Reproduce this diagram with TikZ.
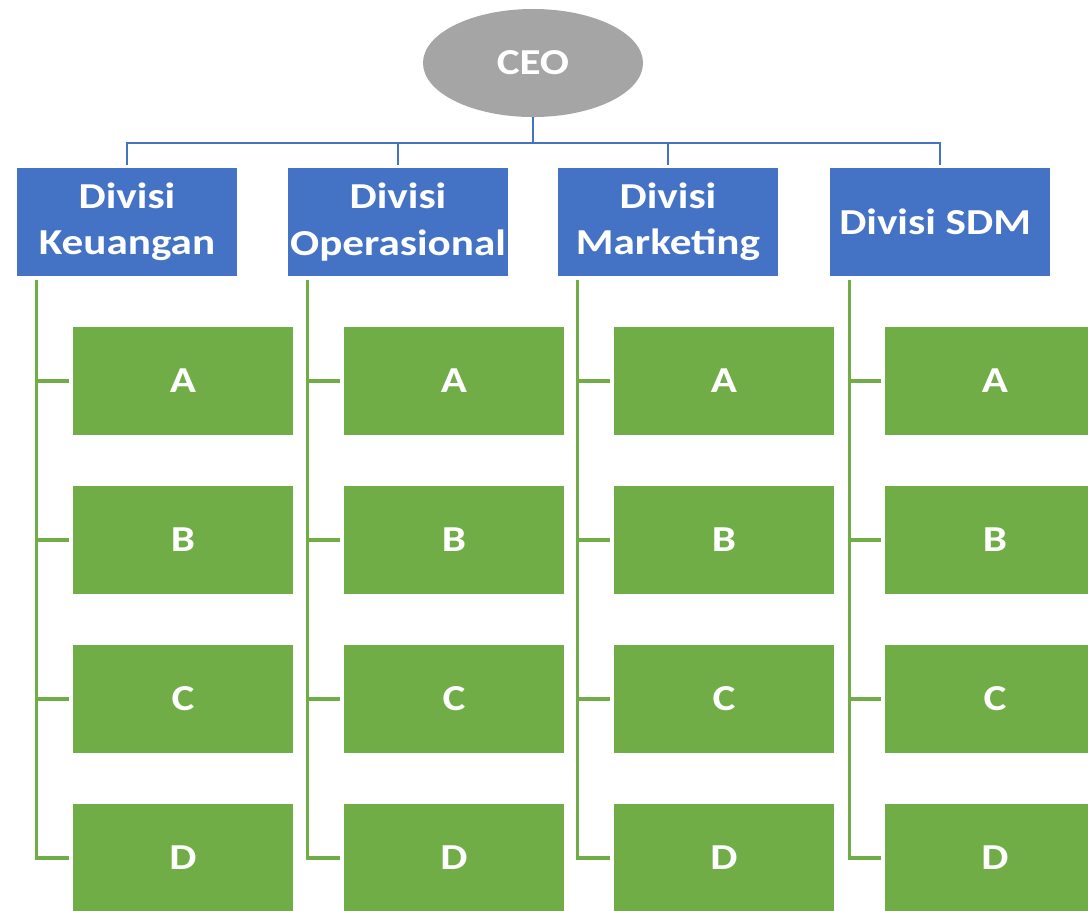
\documentclass[tikz,border=0pt]{standalone}
\usepackage{fontspec}
\usetikzlibrary{shapes.geometric}
\newfontfamily\chartfont[FakeStretch=1.18]{Carlito}
\definecolor{ceogray}{HTML}{A5A5A5}
\definecolor{divblue}{HTML}{4472C4}
\definecolor{unitgreen}{HTML}{70AD47}
\begin{document}
\begin{tikzpicture}[x=.025cm, y=-.025cm,
	font=\chartfont\bfseries\fontsize{26}{33}\selectfont,
	ceo/.style={ellipse, fill=ceogray, text=white, minimum width=5.5cm, minimum height=2.7cm, inner sep=0pt},
	division/.style={rectangle, fill=divblue, text=white, align=center, minimum width=5.5cm, minimum height=2.7cm, inner sep=0pt},
	unit/.style={rectangle, fill=unitgreen, text=white, minimum width=5.5cm, minimum height=2.68cm, inner sep=0pt},
	busline/.style={draw=divblue, line width=2pt},
	unitline/.style={draw=unitgreen, line width=2.3pt, shorten <=.1cm, shorten >=.1cm}]
	\useasboundingbox (0,0) rectangle (1088,910);
	%ceo
	\node[ceo] (ceo) at (533,63) {CEO};
	\coordinate (bus) at (533,143);
	%divisions
	\foreach \i/\x/\name in {
		1/127/{Divisi\\Keuangan},
		2/398/{Divisi\\Operasional},
		3/668/{Divisi\\Marketing},
		4/940/{Divisi SDM}
	}
	\node[division] (d\i) at (\x,222) {\name};
	%units
	\foreach \i/\x in {1/183,2/454,3/724,4/995}
	\foreach \j/\y in {A/381,B/540,C/699,D/858}
	\node[unit] (u\i\j) at (\x,\y) {\j};
	%lines
	\draw[busline] (ceo) -- (bus);
	\foreach \i in {1,...,4}
	\draw[busline, shorten >=.08cm] (bus) -| (d\i.north);
	\foreach \i in {1,...,4}
	\foreach \j in {A,B,C,D}
	\draw[unitline] ([xshift=.5cm]d\i.south west) |- (u\i\j.west);
\end{tikzpicture}
\end{document}
